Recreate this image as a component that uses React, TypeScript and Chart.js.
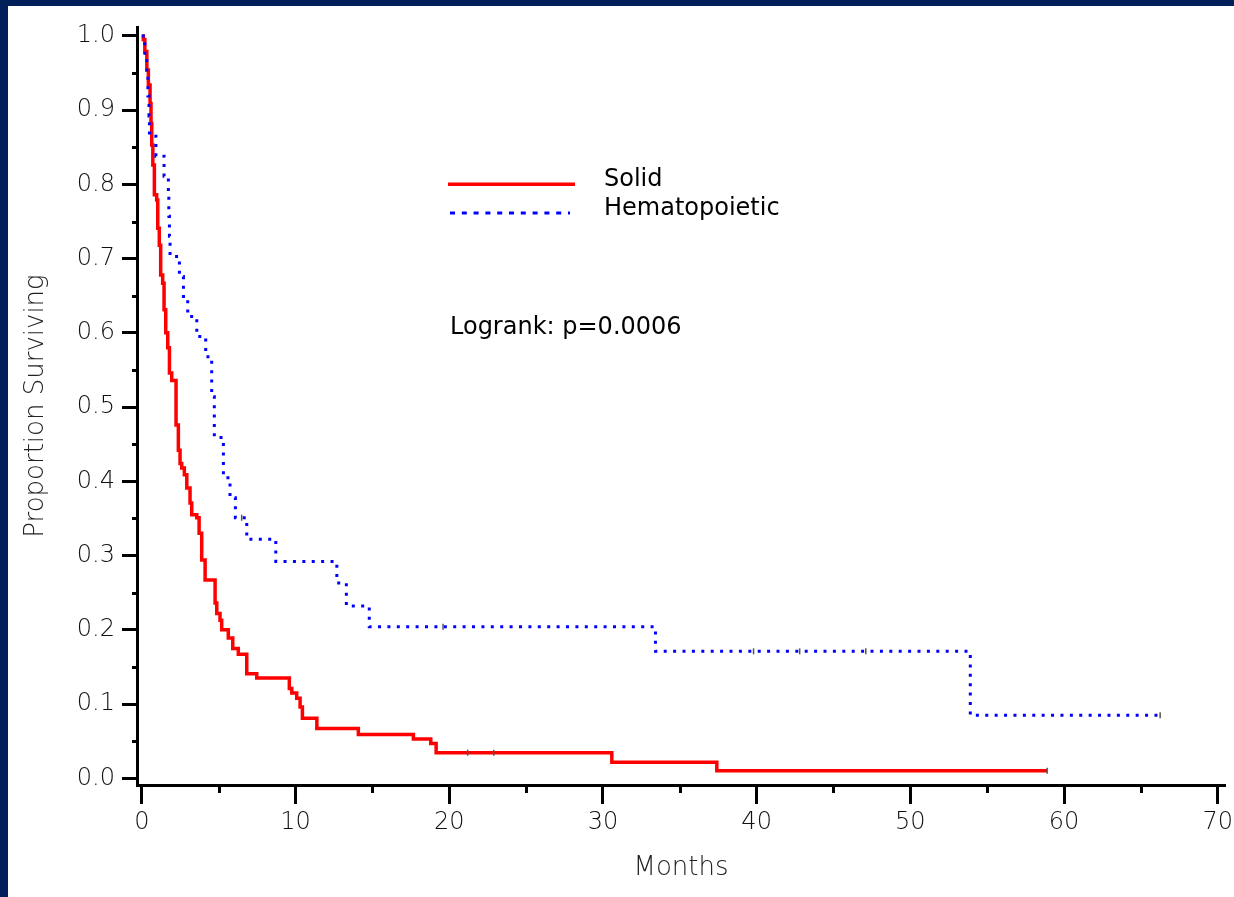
import React, { useEffect, useRef } from 'react';
import { Chart, registerables } from 'chart.js';

Chart.register(...registerables);

// ---- Data ----
const solidMonths = [0, 0.1, 0.2, 0.33, 0.43, 0.54, 0.6, 0.65, 0.72, 0.82, 0.97, 1.04, 1.14, 1.23, 1.36, 1.45, 1.56, 1.69, 1.8, 1.95, 2.23, 2.38, 2.49, 2.6, 2.77, 2.93, 3.14, 3.25, 3.58, 3.73, 3.9, 4.12, 4.77, 4.88, 5.09, 5.2, 5.63, 5.92, 6.28, 6.83, 7.48, 9.6, 9.76, 10.08, 10.3, 10.45, 11.39, 14.09, 17.67, 18.8, 19.15, 30.58, 37.41, 58.9];
const solidSurvival = [1.0, 0.995, 0.979, 0.954, 0.934, 0.909, 0.882, 0.853, 0.826, 0.786, 0.779, 0.741, 0.718, 0.678, 0.667, 0.631, 0.6, 0.58, 0.546, 0.536, 0.476, 0.442, 0.424, 0.418, 0.409, 0.391, 0.371, 0.355, 0.351, 0.33, 0.294, 0.267, 0.236, 0.222, 0.213, 0.2, 0.189, 0.175, 0.167, 0.141, 0.135, 0.121, 0.115, 0.108, 0.096, 0.081, 0.067, 0.059, 0.053, 0.047, 0.0345, 0.0216, 0.0102, 0.0102];

const hemaMonths = [0, 0.2, 0.33, 0.4, 0.47, 0.5, 0.92, 1.45, 1.73, 1.76, 1.8, 1.84, 2.45, 2.71, 2.99, 3.58, 4.16, 4.55, 4.72, 5.31, 5.74, 6.09, 6.83, 8.72, 12.69, 13.31, 14.8, 33.42, 53.9, 66.25];
const hemaSurvival = [1.0, 0.973, 0.946, 0.919, 0.892, 0.865, 0.838, 0.811, 0.784, 0.757, 0.73, 0.703, 0.676, 0.649, 0.622, 0.595, 0.568, 0.514, 0.459, 0.405, 0.378, 0.351, 0.322, 0.292, 0.263, 0.232, 0.204, 0.171, 0.085, 0.085];

const solidCensorMonths = [21.2, 22.9, 58.9];
const solidCensorSurvival = [0.0345, 0.0345, 0.0102];
const hemaCensorMonths = [6.5, 19.6, 39.8, 42.8, 47.1, 66.25];
const hemaCensorSurvival = [0.351, 0.204, 0.171, 0.171, 0.171, 0.085];

const xMajorTicks = [0, 10, 20, 30, 40, 50, 60, 70];
const xMinorTicks = [5, 15, 25, 35, 45, 55, 65];
const yMajorTicks = [0, 0.1, 0.2, 0.3, 0.4, 0.5, 0.6, 0.7, 0.8, 0.9, 1.0];
const yMinorTicks = [0.05, 0.15, 0.25, 0.35, 0.45, 0.55, 0.65, 0.75, 0.85, 0.95];

const seriesLabels = ['Solid', 'Hematopoietic'];
const annotationText = 'Logrank: p=0.0006';
const xTitle = 'Months';
const yTitle = 'Proportion Surviving';

const FONT = "'DejaVu Sans', sans-serif";
const NAVY = '#001f5b';
const RED = '#ff0000';
const BLUE = '#0000ff';

const toPts = (xs: number[], ys: number[]) => xs.map((x, i) => ({ x, y: ys[i] }));

const overlayPlugin = {
  id: 'overlay',
  afterDraw(chart: any) {
    const { ctx, chartArea, scales } = chart;
    const xs = scales.x;
    const ys = scales.y;
    ctx.save();
    // minor ticks
    ctx.strokeStyle = '#000';
    ctx.lineWidth = 3;
    ctx.lineCap = 'butt';
    ctx.beginPath();
    xMinorTicks.forEach((v) => {
      const px = Math.round(xs.getPixelForValue(v)) + 0.5;
      ctx.moveTo(px, chartArea.bottom);
      ctx.lineTo(px, chartArea.bottom + 8);
    });
    yMinorTicks.forEach((v) => {
      const py = Math.round(ys.getPixelForValue(v)) + 0.5;
      ctx.moveTo(chartArea.left - 5, py);
      ctx.lineTo(chartArea.left, py);
    });
    ctx.stroke();

    // legend
    const lx0 = 440;
    const lx1 = 567;
    ctx.strokeStyle = RED;
    ctx.lineWidth = 3.5;
    ctx.beginPath();
    ctx.moveTo(lx0, 178.3);
    ctx.lineTo(lx1, 178.3);
    ctx.stroke();
    ctx.strokeStyle = BLUE;
    ctx.lineWidth = 3;
    ctx.setLineDash([5, 6.8]);
    ctx.beginPath();
    ctx.moveTo(lx0 + 2, 207);
    ctx.lineTo(lx1 - 5, 207);
    ctx.stroke();
    ctx.setLineDash([]);

    ctx.fillStyle = '#000';
    ctx.font = `24px ${FONT}`;
    ctx.textAlign = 'left';
    ctx.textBaseline = 'alphabetic';
    ctx.fillText(seriesLabels[0], 596, 179.5);
    ctx.fillText(seriesLabels[1], 596, 209);
    ctx.fillText(annotationText, 442, 327.5);
    ctx.restore();
  },
};

export default function App() {
  const ref = useRef<HTMLCanvasElement | null>(null);

  useEffect(() => {
    if (!ref.current) return;
    const zeroPad = (scale: any) => {
      scale.paddingLeft = 0;
      scale.paddingRight = 0;
      scale.paddingTop = 0;
      scale.paddingBottom = 0;
    };
    const chart = new Chart(ref.current, {
      type: 'line',
      data: {
        datasets: [
          {
            label: seriesLabels[1],
            data: toPts(hemaMonths, hemaSurvival),
            borderColor: BLUE,
            borderWidth: 3,
            borderDash: [3, 6.4],
            borderCapStyle: 'butt',
            stepped: 'before',
            pointRadius: 0,
            fill: false,
            order: 1,
          },
          {
            label: seriesLabels[0],
            data: toPts(solidMonths, solidSurvival),
            borderColor: RED,
            borderWidth: 3.5,
            stepped: 'before',
            pointRadius: 0,
            fill: false,
            order: 1,
          },
          {
            label: 'censor-h',
            data: toPts(hemaCensorMonths, hemaCensorSurvival),
            showLine: false,
            pointStyle: 'line',
            rotation: 90,
            pointRadius: 3,
            pointBorderWidth: 1.5,
            pointBorderColor: '#555',
            order: 0,
          },
          {
            label: 'censor-s',
            data: toPts(solidCensorMonths, solidCensorSurvival),
            showLine: false,
            pointStyle: 'line',
            rotation: 90,
            pointRadius: 3,
            pointBorderWidth: 1.5,
            pointBorderColor: '#555',
            order: 0,
          },
        ],
      },
      options: {
        animation: false,
        responsive: false,
        maintainAspectRatio: false,
        layout: { padding: { top: 21, right: 9, left: 0, bottom: 0 } },
        plugins: {
          legend: { display: false },
          tooltip: { enabled: false },
        },
        scales: {
          x: {
            type: 'linear',
            min: -0.31,
            max: 70.47,
            afterBuildTicks: (scale: any) => {
              scale.ticks = xMajorTicks.map((v) => ({ value: v }));
            },
            afterFit: (scale: any) => {
              scale.height = 112;
              zeroPad(scale);
            },
            grid: {
              display: true,
              drawOnChartArea: false,
              drawTicks: true,
              tickLength: 19,
              tickWidth: 3,
              tickColor: '#000',
            },
            border: { display: true, color: '#000', width: 3 },
            ticks: {
              color: '#111',
              padding: 4,
              maxRotation: 0,
              autoSkip: false,
              font: { family: FONT, size: 24, weight: '200' as any },
              callback: (v: any) => String(v),
            },
            title: {
              display: true,
              text: xTitle,
              color: '#222',
              font: { family: FONT, size: 26, weight: '200' as any },
              padding: { top: 0, bottom: 13 },
            },
          },
          y: {
            type: 'linear',
            min: -0.009,
            max: 1.012,
            afterBuildTicks: (scale: any) => {
              scale.ticks = yMajorTicks.map((v) => ({ value: v }));
            },
            afterFit: (scale: any) => {
              scale.width = 129;
              zeroPad(scale);
            },
            grid: {
              display: true,
              drawOnChartArea: false,
              drawTicks: true,
              tickLength: 15,
              tickWidth: 3,
              tickColor: '#000',
            },
            border: { display: true, color: '#000', width: 3 },
            ticks: {
              color: '#111',
              padding: 7,
              autoSkip: false,
              font: { family: FONT, size: 24, weight: '200' as any },
              callback: (v: any) => Number(v).toFixed(1),
            },
            title: {
              display: true,
              text: yTitle,
              color: '#222',
              font: { family: FONT, size: 26, weight: '200' as any },
              padding: { top: 13, bottom: 0 },
            },
          },
        },
      },
      plugins: [overlayPlugin],
    });
    return () => chart.destroy();
  }, []);

  return (
    <div
      style={{
        position: 'fixed',
        left: 0,
        top: 0,
        width: 1234,
        height: 897,
        background: NAVY,
        overflow: 'hidden',
      }}
    >
      <canvas
        ref={ref}
        width={1226}
        height={891}
        style={{ position: 'absolute', left: 8, top: 6, width: 1226, height: 891, background: '#fff' }}
      />
    </div>
  );
}
